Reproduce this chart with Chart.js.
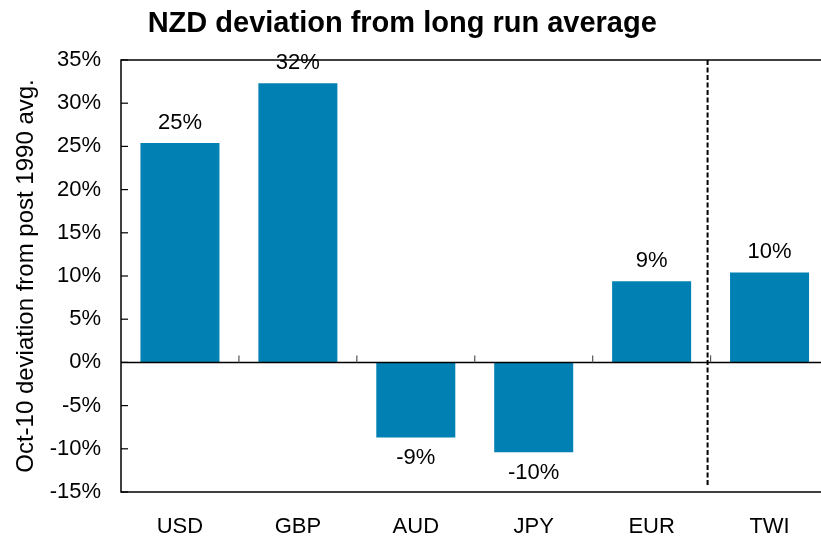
<!DOCTYPE html>
<html>
<head>
<meta charset="utf-8">
<script src="https://cdn.jsdelivr.net/npm/chart.js@4.4.1/dist/chart.umd.min.js"></script>
<style>
  html, body { margin: 0; padding: 0; background: #fff; overflow: hidden; }
  #wrap { position: relative; width: 821px; height: 538px; overflow: hidden; }
  #wrap canvas { position: absolute; left: -24px; top: 0; }
</style>
</head>
<body>
<div id="wrap"><canvas id="chart" width="864" height="538"></canvas></div>
<script>
const currencies = ["USD", "GBP", "AUD", "JPY", "EUR", "TWI"];
const deviation = [25.4, 32.3, -8.7, -10.4, 9.4, 10.4];
const yMin = -15;
const yMax = 35;
const yStep = 5;

const fontFamily = 'Arial, "Liberation Sans", sans-serif';
Chart.defaults.font.family = fontFamily;
Chart.defaults.font.size = 22;
Chart.defaults.color = "#000";

// axes box, zero line, inner ticks, divider and value labels
const decorations = {
  id: "decorations",
  afterDatasetsDraw(chart) {
    const { ctx, chartArea: a, scales: { x, y } } = chart;
    const zeroY = y.getPixelForValue(0);
    ctx.save();

    ctx.strokeStyle = "#000";
    ctx.lineWidth = 1.5;
    ctx.beginPath();
    ctx.moveTo(a.left, zeroY);
    ctx.lineTo(a.right, zeroY);
    ctx.stroke();
    ctx.strokeRect(a.left, a.top, a.right - a.left, a.bottom - a.top);

    // inner ticks on the y axis
    ctx.lineWidth = 1.2;
    y.ticks.forEach(t => {
      const py = y.getPixelForValue(t.value);
      ctx.beginPath();
      ctx.moveTo(a.left, py);
      ctx.lineTo(a.left + 7, py);
      ctx.stroke();
    });

    // category boundary ticks on the zero line
    ctx.strokeStyle = "#555";
    for (let i = 0; i < currencies.length - 1; i++) {
      const bx = (x.getPixelForValue(i) + x.getPixelForValue(i + 1)) / 2;
      ctx.beginPath();
      ctx.moveTo(bx, zeroY);
      ctx.lineTo(bx, zeroY - 7);
      ctx.stroke();
    }

    // dashed divider before TWI
    const dx = (x.getPixelForValue(4) + x.getPixelForValue(5)) / 2 - 3;
    ctx.strokeStyle = "#000";
    ctx.lineWidth = 2;
    ctx.setLineDash([5, 2.5]);
    ctx.beginPath();
    ctx.moveTo(dx, a.top);
    ctx.lineTo(dx, a.bottom - 5);
    ctx.stroke();
    ctx.setLineDash([]);

    // value labels
    ctx.fillStyle = "#000";
    ctx.font = "22px " + fontFamily;
    ctx.textAlign = "center";
    ctx.textBaseline = "middle";
    chart.getDatasetMeta(0).data.forEach((bar, i) => {
      const v = deviation[i];
      const ly = v >= 0 ? bar.y - 20.5 : bar.y + 20.5;
      ctx.fillText(Math.round(v) + "%", bar.x, ly);
    });

    ctx.restore();
  }
};

new Chart(document.getElementById("chart"), {
  type: "bar",
  data: {
    labels: currencies,
    datasets: [{
      data: deviation,
      backgroundColor: "#0080b3",
      borderWidth: 0,
      categoryPercentage: 1,
      barPercentage: 0.67
    }]
  },
  options: {
    responsive: false,
    devicePixelRatio: 1,
    animation: false,
    layout: { padding: { left: 0, right: 11.5, top: 0, bottom: 0 } },
    plugins: {
      legend: { display: false },
      tooltip: { enabled: false },
      title: {
        display: true,
        text: "NZD deviation from long run average",
        font: { size: 29, weight: "bold" },
        color: "#000",
        padding: { top: 7, bottom: 18.2 }
      }
    },
    scales: {
      x: {
        grid: { display: false, drawTicks: false },
        border: { display: false },
        ticks: { padding: 22, maxRotation: 0 },
        afterFit(s) { s.height = 46; }
      },
      y: {
        min: yMin,
        max: yMax,
        grid: { display: false, drawTicks: false },
        border: { display: false },
        ticks: {
          stepSize: yStep,
          padding: 20,
          callback: v => v + "%"
        },
        title: {
          display: true,
          text: "Oct-10 deviation from post 1990 avg.",
          font: { size: 24 },
          padding: { top: 35.5, bottom: 0 }
        },
        afterFit(s) { s.width = 145; }
      }
    }
  },
  plugins: [decorations]
});
</script>
</body>
</html>
